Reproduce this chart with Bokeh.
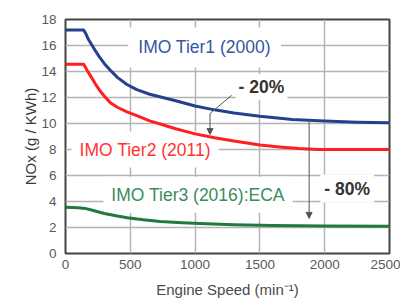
from bokeh.plotting import figure
from bokeh.models import Label, Arrow, NormalHead, FixedTicker, Title
from bokeh.embed import file_html
from bokeh.resources import INLINE

# ---- data ----
speed_t1 = [0, 140, 155, 175, 200, 230, 260, 300, 346, 400, 474, 550, 650, 750, 850, 1000,
            1150, 1300, 1500, 1750, 2000, 2250, 2500]
nox_t1 = [17.2, 17.2, 16.95, 16.5, 16.1, 15.6, 15.15, 14.6, 14.1, 13.55, 13.0, 12.6, 12.25,
          12.0, 11.75, 11.35, 11.05, 10.8, 10.55, 10.3, 10.2, 10.1, 10.05]

speed_t2 = [0, 140, 155, 175, 200, 230, 260, 300, 346, 400, 474, 550, 650, 750, 850, 1000,
            1150, 1300, 1500, 1650, 1800, 1950, 2500]
nox_t2 = [14.55, 14.55, 14.3, 13.95, 13.55, 13.05, 12.6, 12.1, 11.6, 11.25, 10.9, 10.6, 10.2,
          9.9, 9.6, 9.2, 8.9, 8.65, 8.35, 8.2, 8.08, 8.0, 8.0]

speed_t3 = [0, 100, 150, 200, 300, 400, 477, 600, 731, 900, 1038, 1300, 1600, 2000, 2500]
nox_t3 = [3.55, 3.52, 3.47, 3.35, 3.08, 2.88, 2.75, 2.6, 2.47, 2.37, 2.3, 2.22, 2.16, 2.12, 2.1]

x_ticks = [0, 500, 1000, 1500, 2000, 2500]
y_ticks = [0, 2, 4, 6, 8, 10, 12, 14, 16, 18]

series_labels = ["IMO Tier1 (2000)", "IMO Tier2 (2011)", "IMO Tier3 (2016):ECA"]
reduction_labels = ["- 20%", "- 80%"]

FONT = "Liberation Sans"

p = figure(width=400, height=300, output_backend="svg", toolbar_location=None,
           x_range=(0, 2500), y_range=(0, 18),
           min_border_left=65, min_border_right=11, min_border_top=19, min_border_bottom=46)
p.background_fill_color = "white"
p.border_fill_color = "white"
p.outline_line_color = "#444444"
p.outline_line_width = 2

p.xaxis.ticker = FixedTicker(ticks=x_ticks)
p.yaxis.ticker = FixedTicker(ticks=y_ticks)
for ax in (p.xaxis[0], p.yaxis[0]):
    ax.axis_line_color = None
    ax.major_tick_line_color = None
    ax.minor_tick_line_color = None
    ax.major_tick_out = 0
    ax.major_tick_in = 0
    ax.major_label_text_font = FONT
    ax.major_label_text_font_size = "13.5px"
    ax.major_label_text_color = "#5a5a5a"
p.xaxis.major_label_standoff = 6
p.yaxis.major_label_standoff = 9

p.xaxis.axis_label = "Engine Speed (min⁻¹)"
p.xaxis.axis_label_text_font = FONT
p.xaxis.axis_label_text_font_style = "normal"
p.xaxis.axis_label_text_font_size = "15px"
p.xaxis.axis_label_text_color = "#4a4a4a"
p.xaxis.axis_label_standoff = 9

# y axis title as a left-side title so it can be shifted upward like the reference
p.add_layout(Title(text="NOx (g / KWh)", align="center", offset=15,
                   text_font=FONT, text_font_size="15px", text_font_style="normal",
                   text_color="#3a3a3a", standoff=0), "left")

p.xgrid.grid_line_color = "#b4b4b4"
p.ygrid.grid_line_color = "#b4b4b4"
p.xgrid.grid_line_width = 1.5
p.ygrid.grid_line_width = 1.5

def tag(x, y, text, color, size="17.5px", style="normal", pad=4):
    # white-backed label drawn above the grid but beneath the curves
    p.add_layout(Label(x=x, y=y, text=text, text_align="center", text_baseline="middle",
                       text_font=FONT, text_font_size=size, text_color=color,
                       text_font_style=style, level="underlay",
                       background_fill_color="white", padding=pad))

tag(1073, 15.85, series_labels[0], "#3557a5", pad=10)
tag(615, 8.0, series_labels[1], "#ff3333", pad=8)
tag(1023, 4.52, series_labels[2], "#3a8c5c", pad=8)
tag(1512, 12.8, reduction_labels[0], "#333333", style="bold", pad=3)
tag(2173, 5.0, reduction_labels[1], "#333333", style="bold", pad=4)

p.line(speed_t1, nox_t1, line_color="#24408f", line_width=3, line_join="round")
p.line(speed_t2, nox_t2, line_color="#ff1f1f", line_width=3, line_join="round")
p.line(speed_t3, nox_t3, line_color="#1f7a3c", line_width=3, line_join="round")

# reduction arrows
p.add_layout(Arrow(x_start=1282, y_start=12.17, x_end=1115, y_end=10.77, end=None,
                   line_color="#555555", line_width=1))
p.add_layout(Arrow(x_start=1115, y_start=10.77, x_end=1115, y_end=9.15,
                   end=NormalHead(size=6, fill_color="#555555", line_color="#555555"),
                   line_color="#555555", line_width=1))
p.add_layout(Arrow(x_start=1880, y_start=10.26, x_end=1880, y_end=2.7,
                   end=NormalHead(size=6, fill_color="#555555", line_color="#555555"),
                   line_color="#555555", line_width=1))

open("out.html", "w").write(file_html(p, INLINE))
